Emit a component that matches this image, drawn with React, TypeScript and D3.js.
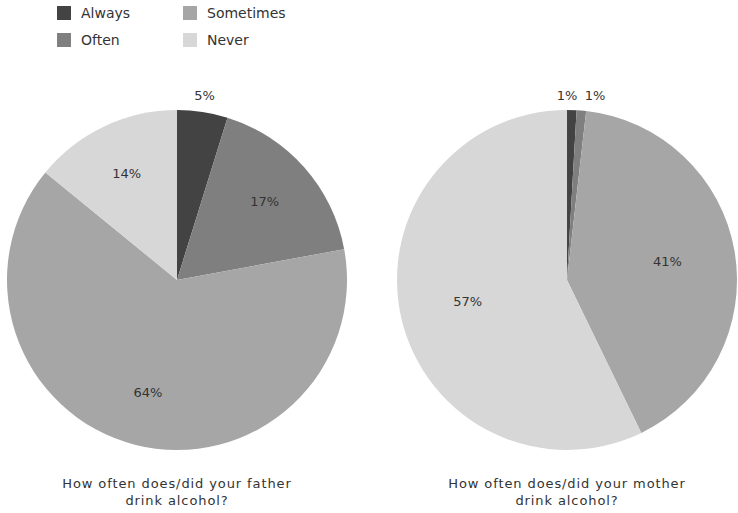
import React from "react";
import * as d3 from "d3";

const categories = ["Always", "Often", "Sometimes", "Never"];
const colors = ["#434343", "#7f7f7f", "#a6a6a6", "#d7d7d7"];
const fatherValues = [4.8, 17.3, 63.8, 14.1];
const fatherLabels = ["5%", "17%", "64%", "14%"];
const motherValues = [0.9, 0.9, 41.0, 57.2];
const motherLabels = ["1%", "1%", "41%", "57%"];
const titles = [
  ["How often does/did your father", "drink alcohol?"],
  ["How often does/did your mother", "drink alcohol?"],
];

const W = 738;
const H = 513;
const R = 170;
const FONT = "'DejaVu Sans', sans-serif";

function Pie({ cx, cy, values, labels, title, labelK }: { cx: number; cy: number; values: number[]; labels: string[]; title: string[]; labelK: number }) {
  const pie = d3.pie<number>().sort(null).value((d) => d);
  const arcs = pie(values);
  const arc = d3.arc<d3.PieArcDatum<number>>().innerRadius(0).outerRadius(R);
  const labelArc = d3.arc<d3.PieArcDatum<number>>().innerRadius(R * labelK).outerRadius(R * labelK);
  const outerArc = d3.arc<d3.PieArcDatum<number>>().innerRadius(R + 14).outerRadius(R + 14);
  let smallCount = 0;
  return (
    <g>
      <g transform={`translate(${cx},${cy})`}>
        {arcs.map((a, i) => (
          <path key={i} d={arc(a) || ""} fill={colors[i]} />
        ))}
        {arcs.map((a, i) => {
          const small = values[i] < 6;
          let [x, y] = small ? outerArc.centroid(a) : labelArc.centroid(a);
          if (small) {
            y = -R - 14;
            if (values[i] < 2) {
              x = smallCount * 28;
              smallCount++;
            }
          }
          return (
            <text key={i} x={x} y={y} textAnchor="middle" dominantBaseline="middle" fontSize={13} fill="#333" fontFamily={FONT}>
              {labels[i]}
            </text>
          );
        })}
      </g>
      {title.map((t, i) => (
        <text key={i} x={cx} y={488 + i * 17} textAnchor="middle" fontSize={13} letterSpacing={0.9} fill="#333" fontFamily={FONT}>
          {t}
        </text>
      ))}
    </g>
  );
}

export default function App() {
  const legendPos = [
    [57, 6],
    [57, 33],
    [183, 6],
    [183, 33],
  ];
  return (
    <div style={{ position: "absolute", left: 0, top: 0 }}>
      <svg width={W} height={H} style={{ display: "block", background: "#fff" }}>
        {categories.map((c, i) => (
          <g key={c} transform={`translate(${legendPos[i][0]},${legendPos[i][1]})`}>
            <rect width={14} height={14} fill={colors[i]} />
            <text x={24} y={12} fontSize={14} fill="#333" fontFamily={FONT}>
              {c}
            </text>
          </g>
        ))}
        <Pie cx={177} cy={280} values={fatherValues} labels={fatherLabels} title={titles[0]} labelK={0.69} />
        <Pie cx={567} cy={280} values={motherValues} labels={motherLabels} title={titles[1]} labelK={0.6} />
      </svg>
    </div>
  );
}
